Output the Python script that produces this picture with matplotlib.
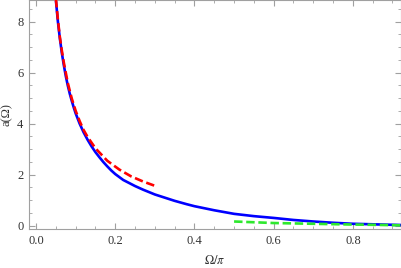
import numpy as np
import matplotlib
matplotlib.use("Agg")
import matplotlib.pyplot as plt
from matplotlib.ticker import MultipleLocator

plt.rcParams['font.family'] = ['Liberation Serif', 'DejaVu Serif']
plt.rcParams['mathtext.fontset'] = 'stix'

# values
omega_full = [0.05, 0.055, 0.06, 0.065, 0.07, 0.075, 0.08, 0.085, 0.09, 0.095,
              0.10, 0.11, 0.12, 0.13, 0.14, 0.15, 0.16, 0.17, 0.18, 0.19, 0.20,
              0.22, 0.25, 0.27, 0.30, 0.33, 0.35, 0.38, 0.40, 0.45, 0.50, 0.55,
              0.60, 0.65, 0.70, 0.75, 0.80, 0.85, 0.90, 0.925]
a_full = [8.85, 8.02, 7.35, 6.78, 6.3, 5.87, 5.5, 5.18, 4.9, 4.64,
          4.4, 4.0, 3.66, 3.37, 3.11, 2.88, 2.68, 2.49, 2.32, 2.16, 2.02,
          1.79, 1.55, 1.41, 1.22, 1.07, 0.97, 0.84, 0.76, 0.6, 0.46, 0.37,
          0.3, 0.22, 0.16, 0.11, 0.07, 0.05, 0.03, 0.02]

omega_small = [0.05, 0.055, 0.06, 0.065, 0.07, 0.08, 0.09, 0.10, 0.11, 0.12,
               0.13, 0.15, 0.18, 0.21, 0.24, 0.27, 0.30]
a_small = [8.9, 8.1, 7.4, 6.87, 6.4, 5.6, 4.99, 4.5, 4.1, 3.75,
           3.48, 3.03, 2.54, 2.2, 1.93, 1.73, 1.56]

omega_large = [0.50, 0.55, 0.60, 0.65, 0.70, 0.75, 0.80, 0.85, 0.92]
a_large = [0.16, 0.13, 0.10, 0.085, 0.07, 0.055, 0.04, 0.03, 0.01]

fig = plt.figure(figsize=(4.02, 2.68), dpi=100)
ax = fig.add_axes([0.072, 0.145, 0.926, 0.855])

ax.plot(omega_full, a_full, color='#0000ff', lw=1.9, zorder=2)
ax.plot(omega_small, a_small, color='#ff0000', lw=1.9, dashes=(3.2, 1.4), zorder=3)
ax.plot(omega_large, a_large, color='#2ee82e', lw=1.9, dashes=(3.2, 1.4), zorder=3)

ax.set_xlim(-0.018, 0.922)
ax.set_ylim(-0.14, 8.85)

ax.xaxis.set_major_locator(MultipleLocator(0.2))
ax.xaxis.set_minor_locator(MultipleLocator(0.05))
ax.yaxis.set_major_locator(MultipleLocator(2))
ax.yaxis.set_minor_locator(MultipleLocator(0.5))
ax.xaxis.set_major_formatter(matplotlib.ticker.FormatStrFormatter('%.1f'))

for s in ax.spines.values():
    s.set_color('#a0a0a0')
    s.set_linewidth(0.8)
ax.tick_params(which='both', direction='in', top=True, right=True,
               color='#a0a0a0', labelcolor='#333333', labelsize=9)
ax.tick_params(which='major', length=4, width=0.8, pad=4)
ax.tick_params(which='minor', length=2.2, width=0.6)

ax.set_xlabel(r'$\Omega/\pi$', fontsize=9, color='#333333', labelpad=5)
ax.set_ylabel('a(Ω)', fontsize=9, color='#333333', labelpad=3)

fig.savefig('out.png', dpi=100)
